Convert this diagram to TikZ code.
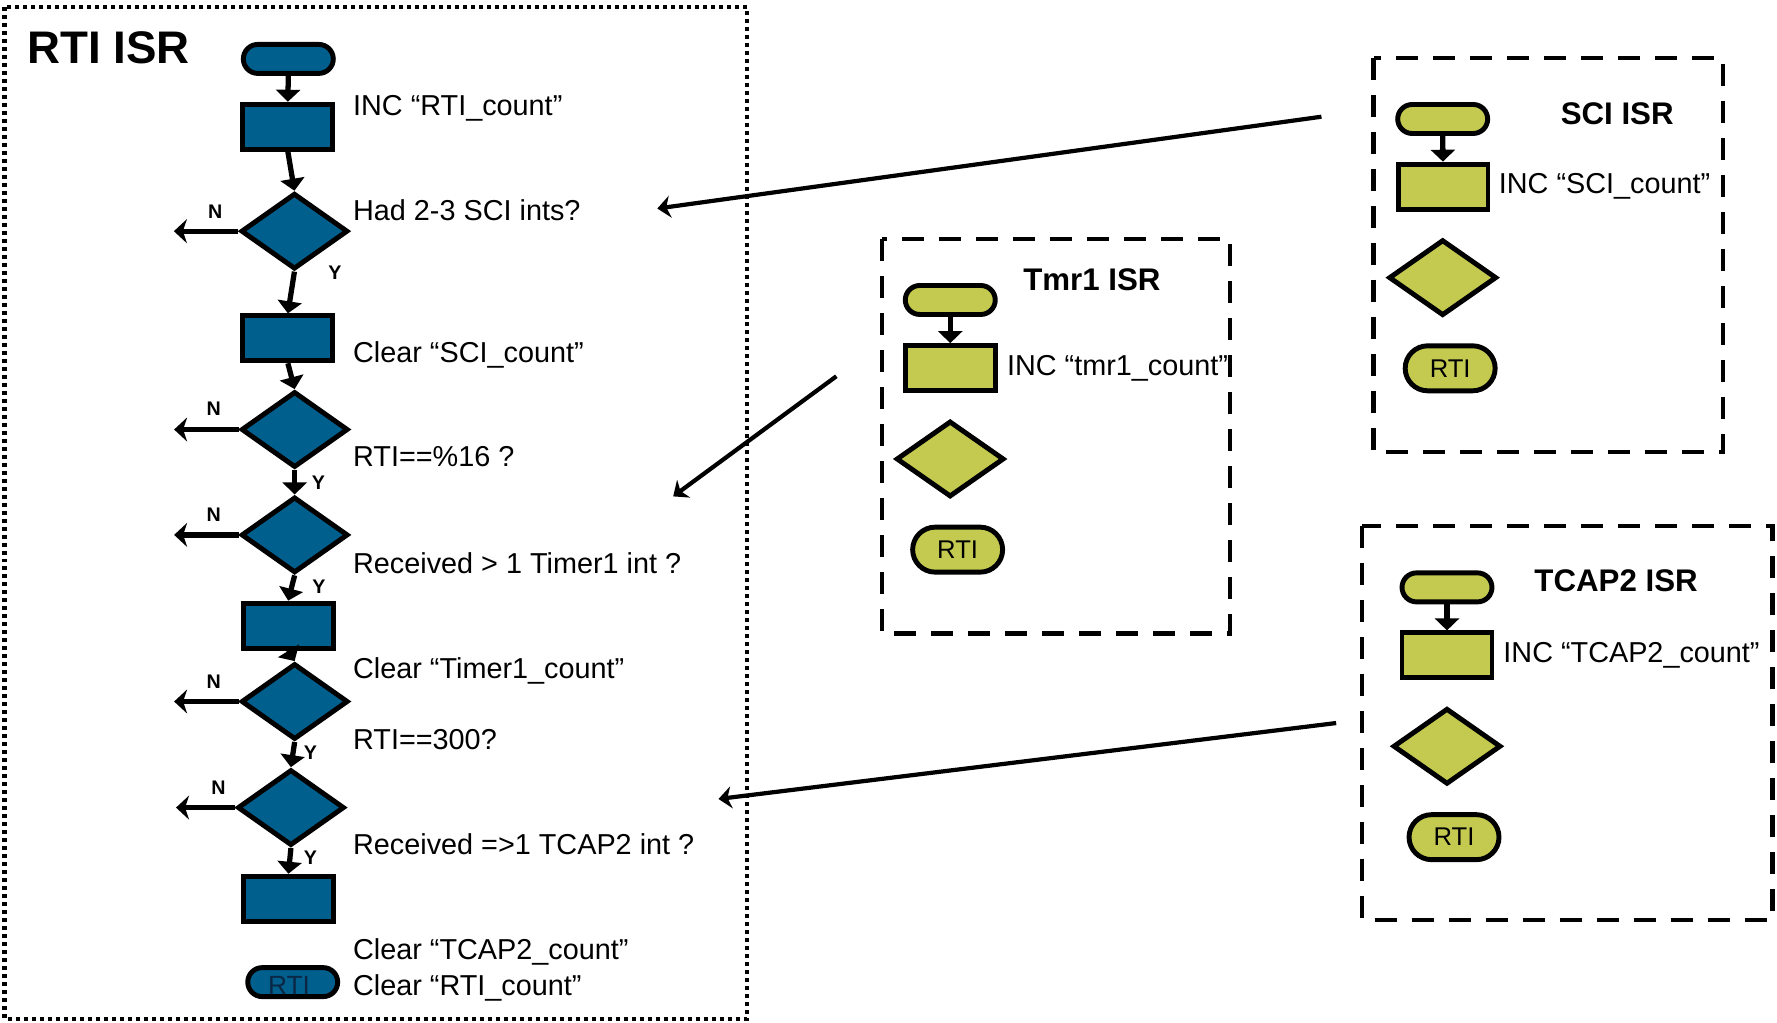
\documentclass[tikz,border=0pt]{standalone}
\usepackage{fontspec}
\setmainfont{Liberation Sans}
\usetikzlibrary{shapes.geometric, shapes.misc, arrows.meta}
\definecolor{rtiblue}{RGB}{0,95,140}
\definecolor{isrgreen}{RGB}{196,202,80}
\definecolor{rtinavy}{RGB}{10,40,70}
\tikzstyle{termblue} = [rounded rectangle, minimum width=0.9cm, minimum height=0.29cm, inner sep=0pt, draw=black, line width=1.4pt, fill=rtiblue]
\tikzstyle{procblue} = [rectangle, minimum width=0.9cm, minimum height=0.45cm, inner sep=0pt, draw=black, line width=1.4pt, fill=rtiblue]
\tikzstyle{decblue} = [diamond, minimum width=1.07cm, minimum height=0.76cm, inner sep=0pt, draw=black, line width=1.4pt, fill=rtiblue]
\tikzstyle{termgreen} = [termblue, fill=isrgreen]
\tikzstyle{procgreen} = [procblue, fill=isrgreen]
\tikzstyle{decgreen} = [decblue, minimum width=1.08cm, minimum height=0.76cm, fill=isrgreen]
\tikzstyle{retgreen} = [termgreen, minimum height=0.45cm, font=\fontsize{7.3}{8.5}\selectfont]
\tikzstyle{note} = [anchor=base west, inner sep=0pt, font=\fontsize{8.2}{9.8}\selectfont]
\tikzstyle{isrtitle} = [inner sep=0pt, font=\fontsize{8.9}{10.6}\selectfont\bfseries]
\tikzstyle{yn} = [inner sep=0pt, font=\fontsize{5.6}{6.7}\selectfont\bfseries]
\tikzstyle{flow} = [->, line width=1.5pt]
\tikzstyle{branch} = [-{Stealth[width=0.24cm, length=0.13cm, inset=0.04cm]}, line width=1.5pt]
\tikzstyle{callout} = [-{Stealth[width=0.22cm, length=0.13cm, inset=0.04cm]}, line width=1.2pt]
\tikzstyle{isrframe} = [line width=1.2pt, dash pattern=on 0.22cm off 0.15cm]
\tikzstyle{rtiframe} = [line width=1.3pt, dash pattern=on 0.04cm off 0.04cm]

\begin{document}
\begin{tikzpicture}[x=0.011333cm, y=-0.011333cm, >={Triangle[width=0.24cm, length=0.12cm]}]
      \useasboundingbox (0,0) rectangle (1568,902);

      % RTI ISR
      \draw [rtiframe] (4,6) rectangle (659,899);
      \node (rtititle) [inner sep=0pt, font=\fontsize{13}{15}\selectfont\bfseries] at (96,42) {RTI ISR};

      \node (rtistart) [termblue] at (254.4,52) {};
      \node (rtiinc) [procblue] at (254,111.8) {};
      \node (dsci) [decblue] at (259.8,204) {};
      \node (clrsci) [procblue] at (254,298.5) {};
      \node (dmod) [decblue] at (260,379) {};
      \node (dtmr) [decblue] at (260,472) {};
      \node (clrtmr) [procblue] at (254.3,552) {};
      \node (d300) [decblue] at (260,619) {};
      \node (dtcap) [decblue] at (256.7,712.6) {};
      \node (clrtcap) [procblue] at (254.5,793) {};
      \node (rtiend) [termblue] at (258.3,866.6) {};
      \node (rtiendtxt) [inner sep=0pt, text=rtinavy, font=\fontsize{7.5}{9}\selectfont] at (255,869.5) {RTI};

      \node (incrti) [note] at (311,102) {INC “RTI\_count”};
      \node (qsci) [note] at (311,195) {Had 2-3 SCI ints?};
      \node (txclrsci) [note] at (311,320) {Clear “SCI\_count”};
      \node (qmod) [note] at (311,412) {RTI==\%16 ?};
      \node (qtmr) [note] at (311,506) {Received > 1 Timer1 int ?};
      \node (txclrtmr) [note] at (311,599) {Clear “Timer1\_count”};
      \node (q300) [note] at (311,661) {RTI==300?};
      \node (qtcap) [note] at (311,754) {Received =>1 TCAP2 int ?};
      \node (txclrtcap) [note] at (311,847) {Clear “TCAP2\_count”};
      \node (txclrrti) [note] at (311,878) {Clear “RTI\_count”};

      \draw [flow] (rtistart.south) -- (rtiinc.north);
      \draw [flow] (rtiinc.south) -- (dsci.north);
      \draw [flow] (dsci.south) -- (clrsci.north);
      \draw [flow] (clrsci.south) -- (dmod.north);
      \draw [flow] (dmod.south) -- (dtmr.north);
      \draw [flow] (dtmr.south) -- (clrtmr.north);
      \draw [flow] (clrtmr.south) -- (d300.north);
      \draw [flow] (d300.south) -- (dtcap.north);
      \draw [flow] (dtcap.south) -- (clrtcap.north);

      \foreach \d/\len in {dsci/57, dmod/57, dtmr/57, d300/57, dtcap/52} {
        \coordinate (\d-no) at ([xshift=-\len*0.011333cm]\d.west);
        \draw [branch] (\d.west) -- (\d-no);
      }

      \node (nsci) [yn] at (190,187) {N};
      \node (nmod) [yn] at (188.5,361) {N};
      \node (ntmr) [yn] at (188.5,454) {N};
      \node (n300) [yn] at (188.5,601.5) {N};
      \node (ntcap) [yn] at (192.7,695) {N};
      \node (ysci) [yn] at (295.6,240.5) {Y};
      \node (ymod) [yn] at (281,426) {Y};
      \node (ytmr) [yn] at (281.5,518) {Y};
      \node (y300) [yn] at (274,664) {Y};
      \node (ytcap) [yn] at (274,757) {Y};

      % SCI ISR
      \draw [isrframe] (1212,51) rectangle (1520,399);
      \node (scititle) [isrtitle] at (1427,100) {SCI ISR};
      \node (scistart) [termgreen] at (1273,105) {};
      \node (sciinc) [procgreen] at (1273.3,164.7) {};
      \node (scidec) [decgreen] at (1273,245) {};
      \node (sciret) [retgreen] at (1279.6,325) {RTI};
      \node (incsci) [note] at (1322,171) {INC “SCI\_count”};
      \draw [flow] (scistart.south) -- (sciinc.north);

      % Tmr1 ISR
      \draw [isrframe] (778,211) rectangle (1085,559);
      \node (tmrtitle) [isrtitle] at (963.5,246.5) {Tmr1 ISR};
      \node (tmrstart) [termgreen] at (838.5,264.7) {};
      \node (tmrinc) [procgreen] at (838.5,324.8) {};
      \node (tmrdec) [decgreen] at (838.4,405) {};
      \node (tmrret) [retgreen] at (845,485) {RTI};
      \node (inctmr) [note] at (888,331) {INC “tmr1\_count”};
      \draw [flow] (tmrstart.south) -- (tmrinc.north);

      % TCAP2 ISR
      \draw [isrframe] (1202,464) rectangle (1564,812);
      \node (tcaptitle) [isrtitle] at (1426,512.5) {TCAP2 ISR};
      \node (tcapstart) [termgreen] at (1276.8,518.3) {};
      \node (tcapinc) [procgreen] at (1276.8,578.3) {};
      \node (tcapdec) [decgreen] at (1276.8,658.5) {};
      \node (tcapret) [retgreen] at (1283,738.7) {RTI};
      \node (inctcap) [note] at (1326,585) {INC “TCAP2\_count”};
      \draw [flow] (tcapstart.south) -- (tcapinc.north);

      \coordinate (scifrom) at (1166,103);
      \coordinate (scito) at (580,184);
      \coordinate (tmrfrom) at (738,332);
      \coordinate (tmrto) at (594,438);
      \coordinate (tcapfrom) at (1179,638);
      \coordinate (tcapto) at (634,705);
      \draw [callout] (scifrom) -- (scito);
      \draw [callout] (tmrfrom) -- (tmrto);
      \draw [callout] (tcapfrom) -- (tcapto);
\end{tikzpicture}
\end{document}
